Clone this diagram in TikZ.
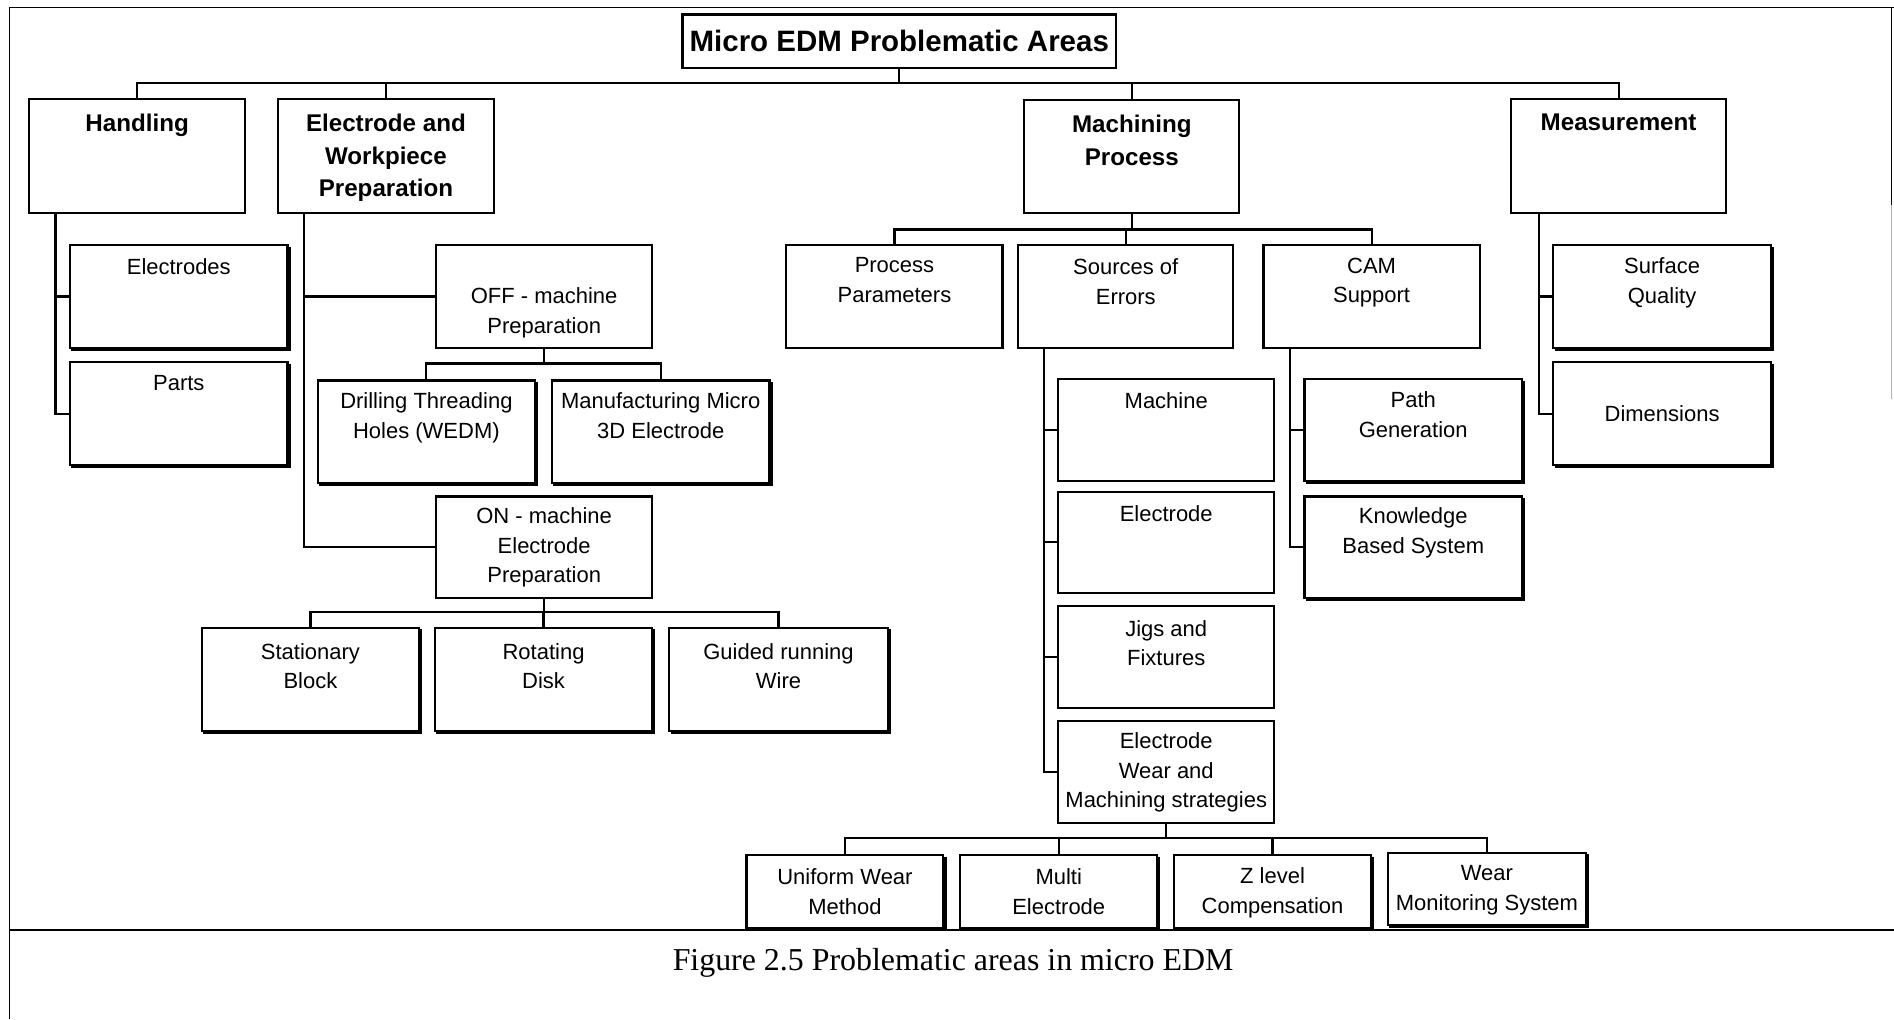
\documentclass[tikz,border=0pt]{standalone}
\usepackage{fontspec}
\setmainfont{Liberation Sans}
\newfontfamily\capfont{Liberation Serif}
\newcommand{\bx}[7]{\node[box,#6,minimum width={(#4-#2)*0.5pt},minimum height={(#5-#3)*0.5pt}] (#1) at ({(#2+#4)/2},{(#3+#5)/2}) {#7};}
\newcommand{\tx}[4]{\node[#2,anchor=north] (#1-t) at (#1.center |- 0,#3) {#4};}
\begin{document}
\begin{tikzpicture}[x=0.5pt,y=-0.5pt,
  box/.style={draw,line width=0.9pt,inner sep=0pt},
  conn/.style={line width=0.9pt},
  body/.style={inner sep=0pt,align=center,font=\fontsize{9.1pt}{12.25pt}\selectfont},
  head/.style={inner sep=0pt,align=center,font=\fontsize{10pt}{13.5pt}\selectfont\bfseries},
  ttl/.style={font=\fontsize{12.2pt}{14pt}\selectfont\bfseries},
  shadowedge/.style={line width=1.7pt,line cap=butt},
  frameline/.style={line width=0.6pt}]
\useasboundingbox (0,0) rectangle (1568,844);
% frame
\draw[frameline] (8,844) -- (8,6) -- (1568,6);
\draw[frameline] (1566,6) -- (1566,170);
\draw[frameline,gray!60] (1566,170) -- (1566,330);
\draw[frameline] (8,770) -- (1568,770);
% boxes
\bx{title}{565}{12}{924}{56}{ttl}{Micro EDM Problematic Areas}
\bx{hand}{24}{82}{203}{176}{}{}
\bx{elec}{230}{82}{409}{176}{}{}
\bx{mach}{848}{83}{1026}{176}{}{}
\bx{meas}{1251}{82}{1429}{176}{}{}
\bx{elecs}{58}{203}{238}{288}{}{}
\bx{parts}{58}{300}{238}{385}{}{}
\bx{off}{361}{203}{540}{288}{}{}
\bx{drill}{263}{315}{443}{400}{}{}
\bx{manu}{457}{315}{637}{400}{}{}
\bx{on}{361}{411}{540}{495}{}{}
\bx{stat}{167}{520}{347}{605}{}{}
\bx{rot}{360}{520}{540}{605}{}{}
\bx{guide}{554}{520}{735}{605}{}{}
\bx{pp}{651}{203}{830}{288}{}{}
\bx{soe}{843}{203}{1021}{288}{}{}
\bx{cam}{1046}{203}{1225}{288}{}{}
\bx{machine}{876}{314}{1055}{398}{}{}
\bx{electrode}{876}{407}{1055}{491}{}{}
\bx{jigs}{876}{502}{1055}{586}{}{}
\bx{ew}{876}{597}{1055}{681}{}{}
\bx{path}{1080}{314}{1260}{398}{}{}
\bx{know}{1080}{411}{1260}{495}{}{}
\bx{surf}{1286}{203}{1466}{288}{}{}
\bx{dims}{1286}{300}{1466}{385}{body}{Dimensions}
\bx{unif}{618}{708}{781}{768}{}{}
\bx{multi}{795}{708}{958}{768}{}{}
\bx{zlev}{972}{708}{1135}{768}{}{}
\bx{wear}{1149}{706}{1313}{766}{}{}
\foreach \n in {elecs,parts,drill,manu,stat,rot,guide,path,know,surf,dims,unif,multi,zlev,wear}
  \draw[shadowedge] ([yshift=-1pt]\n.north east) -- (\n.south east) -- ([xshift=1pt]\n.south west);
% texts
\tx{hand}{head}{94}{Handling}
\tx{elec}{head}{94}{Electrode and\\Workpiece\\Preparation}
\tx{mach}{head}{95}{Machining\\Process}
\tx{meas}{head}{94}{Measurement}
\tx{elecs}{body}{214}{Electrodes}
\tx{parts}{body}{310}{Parts}
\tx{off}{body}{238}{OFF - machine\\Preparation}
\tx{drill}{body}{325}{Drilling Threading\\Holes (WEDM)}
\tx{manu}{body}{325}{Manufacturing Micro\\3D Electrode}
\tx{on}{body}{420}{ON - machine\\Electrode\\Preparation}
\tx{stat}{body}{532}{Stationary\\Block}
\tx{rot}{body}{532}{Rotating\\Disk}
\tx{guide}{body}{532}{Guided running\\Wire}
\tx{pp}{body}{213}{Process\\Parameters}
\tx{soe}{body}{214}{Sources of\\Errors}
\tx{cam}{body}{213}{CAM\\Support}
\tx{machine}{body}{325}{Machine}
\tx{electrode}{body}{418}{Electrode}
\tx{jigs}{body}{513}{Jigs and\\Fixtures}
\tx{ew}{body}{606}{Electrode\\Wear and\\Machining strategies}
\tx{path}{body}{324}{Path\\Generation}
\tx{know}{body}{420}{Knowledge\\Based System}
\tx{surf}{body}{213}{Surface\\Quality}
\tx{unif}{body}{719}{Uniform Wear\\Method}
\tx{multi}{body}{719}{Multi\\Electrode}
\tx{zlev}{body}{718}{Z level\\Compensation}
\tx{wear}{body}{716}{Wear\\Monitoring System}
% bus coordinates
\coordinate (b0) at (0,69);
\coordinate (b1) at (0,301);
\coordinate (b2) at (0,507);
\coordinate (b3) at (0,190);
\coordinate (b4) at (0,694);
\coordinate (vh) at (46,0);
\coordinate (ve) at (252,0);
\coordinate (vs) at (864,0);
\coordinate (vc) at (1068,0);
\coordinate (vm) at (1274,0);
% connectors
\draw[conn] (title.south) -- (title.south |- b0);
\draw[conn] (hand.north) |- (b0 -| meas.north) -- (meas.north);
\draw[conn] (elec.north) -- (elec.north |- b0);
\draw[conn] (mach.north) -- (mach.north |- b0);
\draw[conn] (vh |- hand.south) |- (parts.west);
\draw[conn] (vh |- elecs.west) -- (elecs.west);
\draw[conn] (ve |- elec.south) |- (on.west);
\draw[conn] (ve |- off.west) -- (off.west);
\draw[conn] (off.south) -- (off.south |- b1);
\draw[conn] (drill.north) |- (b1 -| manu.north) -- (manu.north);
\draw[conn] (on.south) -- (on.south |- b2);
\draw[conn] (stat.north) |- (b2 -| guide.north) -- (guide.north);
\draw[conn] (rot.north) -- (rot.north |- b2);
\draw[conn] (mach.south) -- (mach.south |- b3);
\draw[conn] (pp.north) |- (b3 -| cam.north) -- (cam.north);
\draw[conn] (soe.north) -- (soe.north |- b3);
\draw[conn] (vs |- soe.south) |- (ew.west);
\draw[conn] (vs |- machine.west) -- (machine.west);
\draw[conn] (vs |- electrode.west) -- (electrode.west);
\draw[conn] (vs |- jigs.west) -- (jigs.west);
\draw[conn] (vc |- cam.south) |- (know.west);
\draw[conn] (vc |- path.west) -- (path.west);
\draw[conn] (vm |- meas.south) |- (dims.west);
\draw[conn] (vm |- surf.west) -- (surf.west);
\draw[conn] (ew.south) -- (ew.south |- b4);
\draw[conn] (unif.north) |- (b4 -| wear.north) -- (wear.north);
\draw[conn] (multi.north) -- (multi.north |- b4);
\draw[conn] (zlev.north) -- (zlev.north |- b4);
% caption
\node[font=\capfont\fontsize{13.2pt}{15pt}\selectfont,inner sep=0pt] (cap) at (789,797) {Figure 2.5 Problematic areas in micro EDM};
\end{tikzpicture}
\end{document}
